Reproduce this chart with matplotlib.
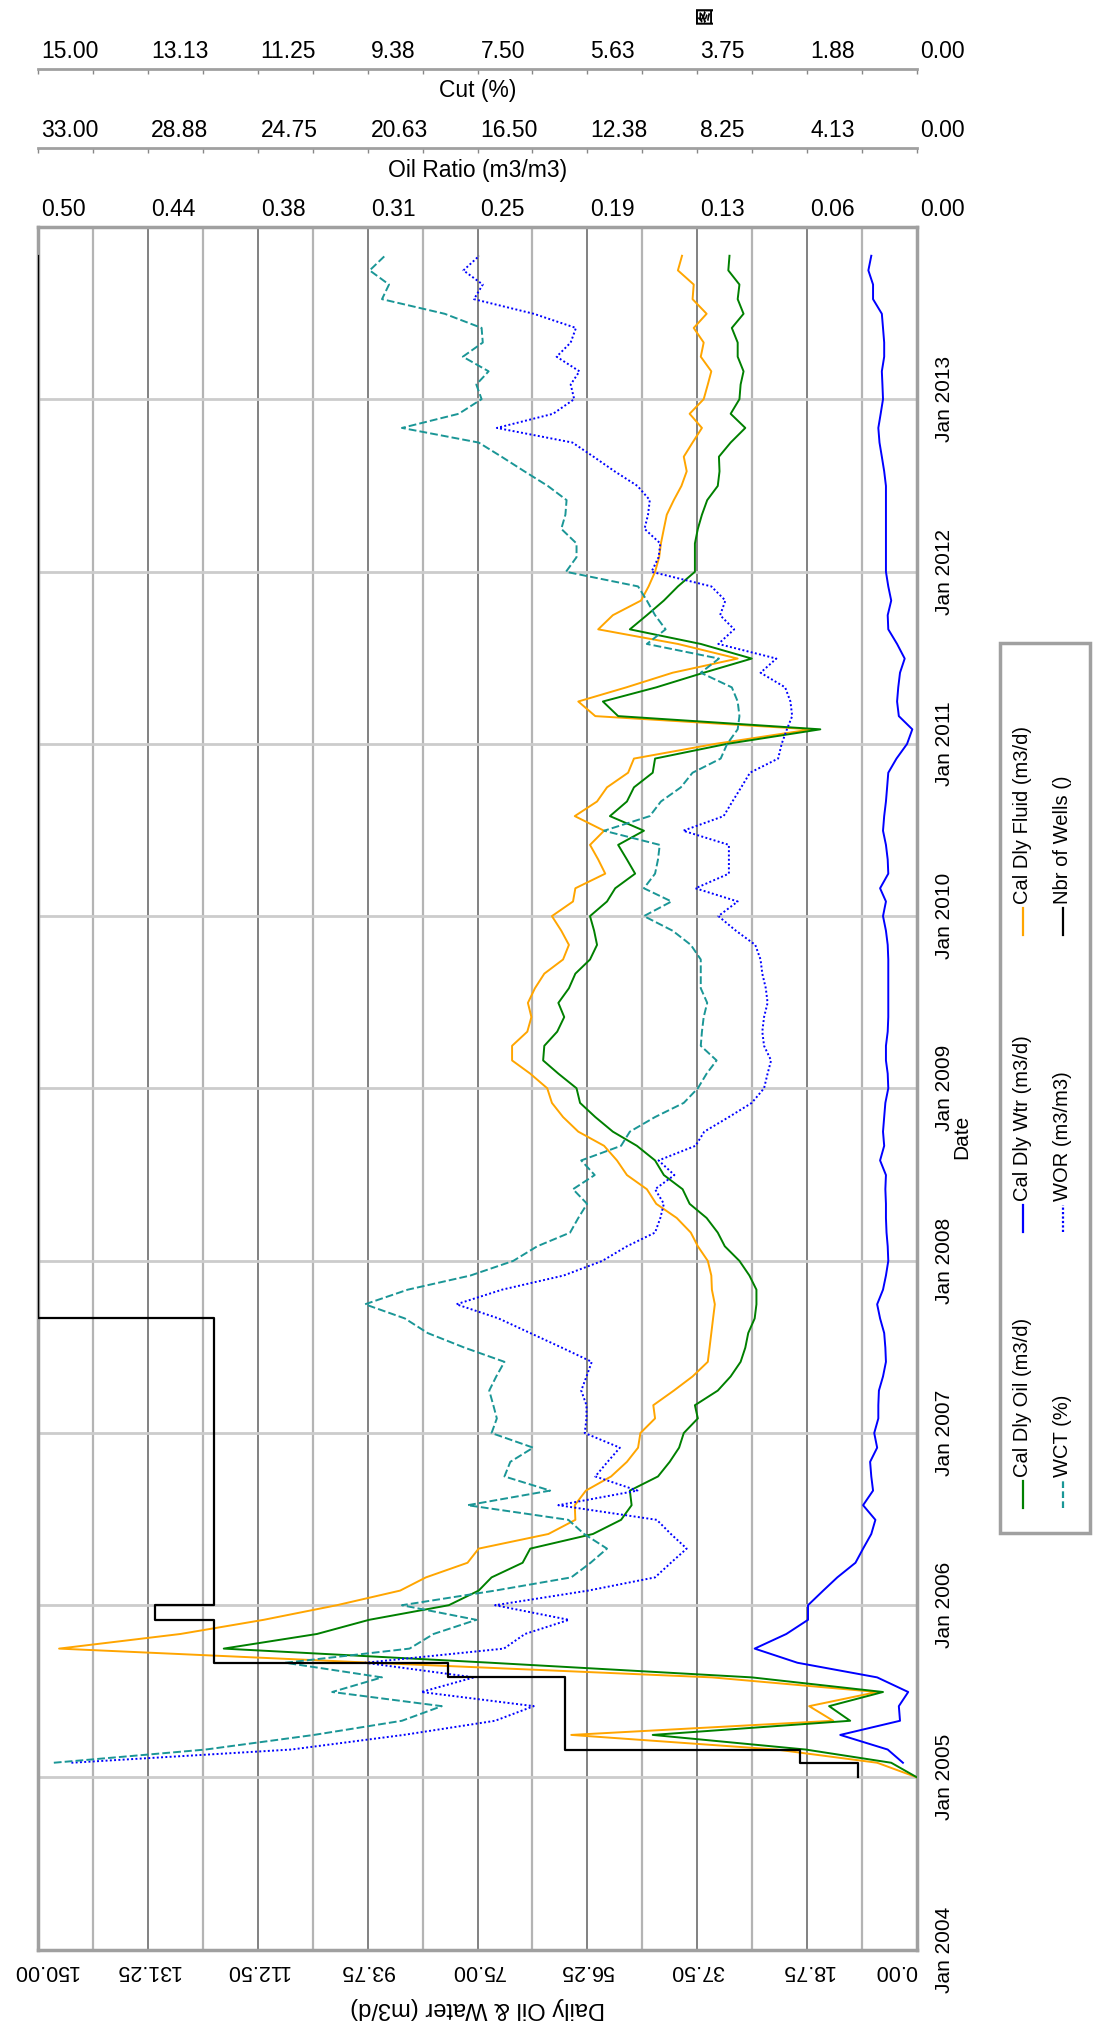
import numpy as np
import pandas as pd
import matplotlib
matplotlib.use("Agg")
import matplotlib.pyplot as plt
from matplotlib.lines import Line2D
from matplotlib.patches import Rectangle
from matplotlib.transforms import ScaledTranslation

plt.rcParams['font.family'] = ['Liberation Sans', 'DejaVu Sans']

# monthly production, Jan 2005 .. Nov 2013
months = pd.date_range('2005-01-01', periods=107, freq='MS')

oil = [0, 4.4, 19.0, 45.1, 11.4, 15.0, 5.8, 28.2, 72.7, 118.3,
       102.4, 93.5, 79.9, 74.8, 72.6, 67.3, 66.0, 55.3, 50.5, 48.7,
       49.0, 44.2, 42.2, 40.6, 39.8, 37.4, 37.9, 34.0, 31.8, 30.1,
       29.3, 28.8, 27.7, 27.4, 27.4, 28.6, 30.3, 32.8, 34.0, 35.9,
       38.8, 40.0, 43.2, 44.7, 47.8, 51.9, 54.9, 57.5, 58.1, 61.2,
       63.8, 63.6, 61.4, 60.2, 61.2, 59.4, 58.3, 55.8, 54.6, 55.1,
       55.8, 52.9, 51.5, 48.1, 49.5, 51.0, 46.6, 52.4, 49.5, 48.3,
       45.1, 44.7, 32.5, 16.5, 51.0, 53.6, 44.5, 36.4, 28.2, 36.9,
       49.0, 46.1, 43.2, 40.8, 37.9, 37.9, 37.9, 37.4, 36.7, 35.8,
       34.0, 33.7, 33.8, 31.8, 29.3, 31.8, 30.3, 30.1, 29.6, 30.6,
       30.6, 31.6, 29.6, 30.6, 30.3, 32.2, 32.0]

fluid = [0, 6.8, 24.0, 59.0, 14.3, 18.4, 6.8, 35.0, 93.0, 146.4,
         125.7, 111.5, 99.0, 88.2, 83.8, 76.7, 74.8, 62.9, 58.3, 58.4,
         56.5, 52.2, 49.5, 47.6, 47.2, 44.7, 45.0, 41.5, 38.3, 35.7,
         35.4, 35.1, 34.8, 34.5, 35.0, 35.1, 35.7, 37.4, 38.6, 41.0,
         44.5, 46.1, 49.5, 51.2, 53.4, 57.8, 60.4, 62.3, 63.1, 66.0,
         69.1, 69.1, 66.5, 65.8, 66.4, 65.2, 63.6, 60.4, 59.4, 60.7,
         62.3, 58.7, 58.3, 53.2, 54.4, 55.8, 53.4, 58.4, 54.6, 52.9,
         49.3, 48.3, 34.5, 18.0, 54.9, 57.8, 49.6, 41.7, 30.6, 40.8,
         54.4, 51.9, 47.1, 45.8, 44.7, 44.0, 43.7, 43.2, 42.7, 41.5,
         40.2, 39.3, 39.8, 38.3, 36.7, 38.8, 36.4, 35.7, 35.1, 36.9,
         36.4, 38.1, 35.9, 38.3, 38.1, 40.8, 40.1]

water = [np.nan, 2.4, 5.0, 13.1, 2.9, 3.1, 1.5, 6.8, 20.4, 27.7,
         22.3, 18.6, 18.6, 16.0, 13.6, 10.5, 9.2, 7.8, 7.1, 9.2,
         7.5, 7.8, 8.0, 6.8, 7.3, 6.6, 6.6, 6.5, 5.8, 5.3,
         5.4, 5.6, 6.3, 6.8, 5.8, 5.3, 4.9, 5.0, 5.2, 5.3,
         5.3, 5.4, 5.3, 6.3, 5.6, 5.8, 5.6, 5.4, 4.9, 5.0,
         5.3, 5.3, 5.0, 4.9, 4.9, 4.9, 4.9, 4.9, 5.0, 5.3,
         5.8, 5.3, 6.3, 4.9, 5.0, 5.3, 5.8, 5.6, 5.3, 5.1,
         4.9, 3.5, 1.7, 0.8, 3.1, 3.4, 3.2, 2.9, 2.1, 3.4,
         4.9, 5.0, 4.4, 4.9, 5.3, 5.3, 5.3, 5.3, 5.3, 5.3,
         5.3, 5.6, 6.0, 6.4, 6.6, 6.2, 5.8, 5.9, 6.0, 5.6,
         5.6, 5.8, 6.0, 7.5, 7.5, 8.3, 7.8]

wct = [np.nan, 14.73, 12.14, 10.29, 8.79, 8.11, 9.98, 9.13, 10.78, 8.66,
       8.25, 7.52, 8.79, 7.20, 5.90, 5.57, 5.29, 5.68, 5.95, 7.67,
       6.26, 7.04, 6.94, 6.55, 7.26, 7.17, 7.23, 7.30, 7.18, 7.04,
       7.72, 8.35, 8.74, 9.42, 8.69, 7.62, 6.89, 6.48, 5.92, 5.78,
       5.63, 5.87, 5.50, 5.73, 5.05, 4.90, 4.47, 3.98, 3.74, 3.59,
       3.42, 3.69, 3.67, 3.64, 3.58, 3.69, 3.69, 3.69, 3.86, 4.17,
       4.66, 4.19, 4.66, 4.47, 4.42, 4.39, 5.34, 4.56, 4.37, 4.03,
       3.83, 3.35, 3.24, 3.06, 3.03, 3.06, 3.16, 3.69, 3.38, 4.61,
       4.29, 4.47, 4.61, 4.76, 5.99, 5.81, 5.81, 6.07, 6.00, 5.98,
       6.30, 6.70, 7.09, 7.48, 8.79, 7.82, 7.43, 7.52, 7.31, 7.75,
       7.41, 7.43, 8.06, 9.13, 9.01, 9.34, 9.08]

wor = [np.nan, 0.481, 0.356, 0.292, 0.240, 0.218, 0.282, 0.252, 0.314, 0.235,
       0.223, 0.198, 0.240, 0.187, 0.149, 0.140, 0.131, 0.140, 0.148, 0.204,
       0.159, 0.183, 0.176, 0.169, 0.189, 0.188, 0.188, 0.191, 0.188, 0.185,
       0.202, 0.220, 0.238, 0.262, 0.236, 0.201, 0.179, 0.165, 0.149, 0.146,
       0.144, 0.149, 0.138, 0.147, 0.126, 0.121, 0.107, 0.094, 0.087, 0.085,
       0.083, 0.087, 0.088, 0.087, 0.085, 0.086, 0.088, 0.089, 0.092, 0.103,
       0.113, 0.102, 0.126, 0.107, 0.107, 0.107, 0.133, 0.110, 0.105, 0.100,
       0.095, 0.079, 0.077, 0.074, 0.071, 0.072, 0.075, 0.089, 0.080, 0.113,
       0.104, 0.112, 0.109, 0.117, 0.151, 0.147, 0.146, 0.155, 0.153, 0.152,
       0.159, 0.172, 0.184, 0.196, 0.239, 0.207, 0.195, 0.197, 0.192, 0.205,
       0.197, 0.194, 0.218, 0.252, 0.247, 0.258, 0.249]

wells = [1, 2, 6, 6, 6, 6, 6, 8, 12, 12, 12, 13] + [12] * 20 + [15] * 75

main_ticks = ['150.00', '131.25', '112.50', '93.75', '75.00', '56.25', '37.50', '18.75', '0.00']
wor_ticks = ['0.50', '0.44', '0.38', '0.31', '0.25', '0.19', '0.13', '0.06', '0.00']
ratio_ticks = ['33.00', '28.88', '24.75', '20.63', '16.50', '12.38', '8.25', '4.13', '0.00']
cut_ticks = ['15.00', '13.13', '11.25', '9.38', '7.50', '5.63', '3.75', '1.88', '0.00']
year_ticks = pd.date_range('2004-01-01', '2013-01-01', freq='YS')

W, H = 1107, 2030
fig = plt.figure(figsize=(W / 100, H / 100), dpi=100)


def fx(px):
    return px / W


def fy(py):
    return 1 - py / H


def shift(text, dx):
    text.set_transform(text.get_transform() + ScaledTranslation(dx / 100, 0, fig.dpi_scale_trans))


L, R, T, B = 38, 917, 227, 1950
FS_TOP = 16.5
FS_BOT = 15.5
FS_DATE = 15
FS_LEG = 14.5
frame = '#a0a0a0'

ax = fig.add_axes([fx(L), fy(B), (R - L) / W, (B - T) / H])
ax.set_xlim(150, 0)
ax.set_ylim(pd.Timestamp('2004-01-01'), pd.Timestamp('2014-01-01'))

ax.set_xticks(np.linspace(150, 0, 9))
ax.set_xticklabels(main_ticks, rotation=180, fontsize=FS_BOT)
ax.set_xticks(np.linspace(150, 0, 17), minor=True)
ax.tick_params(axis='x', which='both', length=0, pad=7)
bottom_labels = ax.get_xticklabels()
shift(bottom_labels[0], 7)
bottom_labels[-1].set_horizontalalignment('right')
ax.grid(axis='x', which='major', color='#777777', lw=1.3)
ax.grid(axis='x', which='minor', color='#b4b4b4', lw=1.6)

ax.yaxis.tick_right()
ax.set_yticks(year_ticks)
ax.set_yticklabels([d.strftime('Jan %Y') for d in year_ticks], rotation=90,
                   va='center', fontsize=FS_DATE)
ax.tick_params(axis='y', length=0, pad=13)
ax.grid(axis='y', which='major', color='#cccccc', lw=2)
ax.set_axisbelow(True)
for s in ax.spines.values():
    s.set_color(frame)
    s.set_linewidth(2.5)

ax.plot(fluid, months, color='orange', lw=1.4, zorder=3)
ax.plot(oil, months, color='green', lw=1.4, zorder=3)
ax.plot(water, months, color='blue', lw=1.4, zorder=3)

# water-oil ratio on the top scale
ax_wor = ax.twiny()
ax_wor.set_xlim(0.5, 0)
ax_wor.set_xticks(np.linspace(0.5, 0, 9))
ax_wor.set_xticklabels(wor_ticks, fontsize=FS_TOP)
ax_wor.tick_params(axis='x', length=0, pad=4)
for s in ax_wor.spines.values():
    s.set_visible(False)
ax_wor.plot(wor, months, color='blue', lw=1.4, ls=(0, (1, 1.2)), zorder=3)

# oil ratio scale (no series)
ax_ratio = ax.twiny()
ax_ratio.set_xlim(33, 0)

# cut scale carries water cut and well count
ax_cut = ax.twiny()
ax_cut.set_xlim(15, 0)
ax_cut.plot(wct, months, color='#1a9696', lw=1.4, ls=(0, (4, 1.6)), zorder=3)
ax_cut.plot(wells, months, color='black', lw=1.6, drawstyle='steps-pre', zorder=3)

for a, lab, ypix, title, ty in [(ax_ratio, ratio_ticks, 148, 'Oil Ratio (m3/m3)', 170),
                                (ax_cut, cut_ticks, 69, 'Cut (%)', 90)]:
    lo, hi = a.get_xlim()
    for s in ['left', 'right', 'bottom']:
        a.spines[s].set_visible(False)
    a.spines['top'].set_position(('outward', (T - ypix) * 0.72))
    a.spines['top'].set_color(frame)
    a.spines['top'].set_linewidth(2)
    a.set_xticks(np.linspace(lo, hi, 9))
    a.set_xticklabels(lab, fontsize=FS_TOP)
    a.set_xticks(np.linspace(lo, hi, 17), minor=True)
    a.tick_params(axis='x', which='both', direction='in', length=3.6, width=1,
                  color='#888888', pad=4)
    fig.text(fx((L + R) / 2), fy(ty), title, ha='center', va='center', fontsize=FS_TOP)

# top scale labels start at their tick
for a in (ax_wor, ax_ratio, ax_cut):
    for t in a.get_xticklabels():
        t.set_horizontalalignment('left')
        shift(t, 3)

fig.text(fx((L + R) / 2), fy(2008), 'Daily Oil & Water (m3/d)', rotation=180,
         ha='center', va='center', fontsize=17)
fig.text(fx(962), fy(1137), 'Date', rotation=90, ha='center', va='center', fontsize=FS_DATE)
fig.text(fx(705), fy(15), '图', rotation=90, ha='center', va='center', fontsize=13,
         fontweight='bold', family=['Noto Sans CJK SC', 'DejaVu Sans'])

# legend box, drawn rotated like the rest of the chart
fig.add_artist(Rectangle((fx(1000), fy(1533)), 90 / W, 890 / H, transform=fig.transFigure,
                         fill=False, edgecolor=frame, lw=2.5))
legend_rows = [
    (1023, [('Cal Dly Oil (m3/d)', 'green', '-'),
            ('Cal Dly Wtr (m3/d)', 'blue', '-'),
            ('Cal Dly Fluid (m3/d)', 'orange', '-')]),
    (1063, [('WCT (%)', '#1a9696', (0, (3, 1.5))),
            ('WOR (m3/m3)', 'blue', (0, (1, 1))),
            ('Nbr of Wells ()', 'black', '-')]),
]
starts = [1508, 1232, 935]
for xpix, entries in legend_rows:
    for (label, color, style), y0 in zip(entries, starts):
        fig.add_artist(Line2D([fx(xpix), fx(xpix)], [fy(y0), fy(y0 - 27)],
                              transform=fig.transFigure, color=color, ls=style, lw=1.6))
        fig.text(fx(xpix), fy(y0 - 31), label, rotation=90, ha='center', va='bottom',
                 fontsize=FS_LEG)

fig.savefig('out.png', dpi=100)
